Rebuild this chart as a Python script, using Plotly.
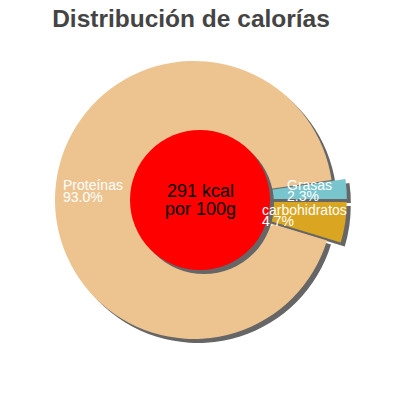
import math

import plotly.graph_objects as go

# chart data
labels = ["Grasas", "carbohidratos", "Proteínas"]
values = [2.3, 4.7, 93.0]
pulls = [0.1, 0.1, 0]
colors = ["#78C5CD", "#DAA520", "#EDC490"]
center_lines = ["291 kcal", "por 100g"]
title = "Distribución de calorías"

W = H = 400
cx, cy, r = 194, 200, 139  # pie centre / radius in px
shadow = 4
FONT = "Liberation Sans, Arial, sans-serif"

total = sum(values)
# first slice sits just above 3 o'clock, the rest go clockwise
rotation = 90 - values[0] / total * 360


def dom(x, y, half):
    return dict(x=[(x - half) / W, (x + half) / W],
                y=[1 - (y + half) / H, 1 - (y - half) / H])


def txt(s, x, y, size, color, anchor="center"):
    fig.add_annotation(text=s, x=x / W, y=1 - y / H, xref="paper", yref="paper",
                       showarrow=False, xanchor=anchor, yanchor="middle",
                       font=dict(family=FONT, size=size, color=color))


half = r * (1 + max(pulls))

fig = go.Figure()
# shadow pie
fig.add_trace(go.Pie(labels=labels, values=values, pull=pulls, sort=False,
                     direction="clockwise", rotation=rotation,
                     marker=dict(colors=["#666666"] * len(values), line=dict(width=0)),
                     textinfo="none", hoverinfo="skip", showlegend=False,
                     domain=dom(cx + shadow, cy + shadow, half)))
fig.add_trace(go.Pie(labels=labels, values=values, pull=pulls, sort=False,
                     direction="clockwise", rotation=rotation,
                     marker=dict(colors=colors, line=dict(width=0)),
                     textinfo="none", showlegend=False,
                     domain=dom(cx, cy, half)))

# red centre disc with shadow
rc, rx, ry = 70, 200, 200
fig.add_shape(type="circle", xref="paper", yref="paper", layer="above",
              x0=(rx - rc + shadow) / W, x1=(rx + rc + shadow) / W,
              y0=1 - (ry + rc + shadow) / H, y1=1 - (ry - rc + shadow) / H,
              fillcolor="#666666", line=dict(width=0))
fig.add_shape(type="circle", xref="paper", yref="paper", layer="above",
              x0=(rx - rc) / W, x1=(rx + rc) / W,
              y0=1 - (ry + rc) / H, y1=1 - (ry - rc) / H,
              fillcolor="#FF0000", line=dict(width=0))
txt(center_lines[0], rx, ry - 9, 18, "black")
txt(center_lines[1], rx, ry + 9, 18, "black")

# slice labels, block centred on the mid-angle, lines left aligned
start = rotation
for lab, v, p in zip(labels, values, pulls):
    mid = math.radians(start + v / total * 180)
    start += v / total * 360
    d = r * 0.73 + r * p * 0.8
    x = cx + d * math.sin(mid)
    y = cy - d * math.cos(mid)
    pct = "%.1f%%" % v
    left = x - max(len(lab), len(pct)) * 7.0 / 2
    txt(lab, left, y - 7, 14, "white", "left")
    txt(pct, left, y + 4.5, 14, "white", "left")

fig.update_layout(
    width=W, height=H,
    margin=dict(l=0, r=0, t=0, b=0),
    paper_bgcolor="white", plot_bgcolor="white",
    title=dict(text="<b>%s</b>" % title, x=0.4775, xanchor="center",
               y=1 - 18 / H, yanchor="middle",
               font=dict(family=FONT, size=24.5, color="#444444")),
)

fig.write_html("out.html", config={"displayModeBar": False},
               post_script="document.body.style.margin='0px';")
